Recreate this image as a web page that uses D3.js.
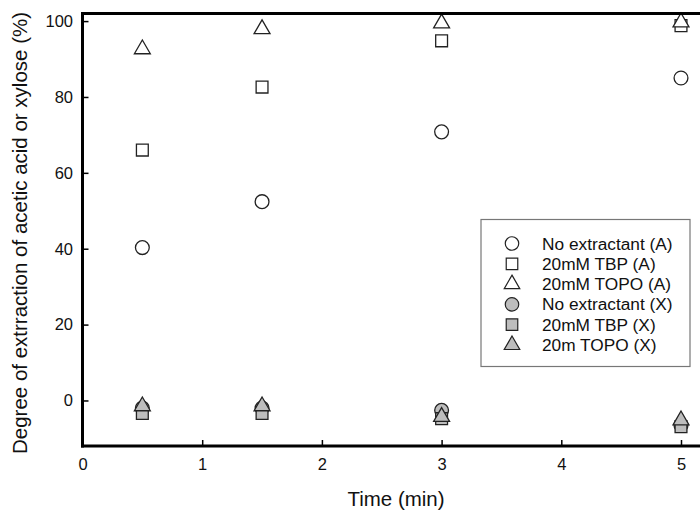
<!doctype html>
<html lang="en">
<head>
  <style>
    body { margin: 0; background: #fff; }
    text { font-family: "Liberation Sans", Arial, sans-serif; fill: #111; }
    .axis-label { font-size: 20.5px; }
    .legend text { font-size: 17.3px; }
  </style>
  <script src="https://d3js.org/d3.v7.min.js"></script>
</head>
<body>
  <script>
    const times = [0.5, 1.5, 3, 5];
    const labels = ["No extractant (A)", "20mM TBP (A)", "20mM TOPO (A)",
                    "No extractant (X)", "20mM TBP (X)", "20m TOPO (X)"];
    const noExtA = [40.3, 52.4, 70.8, 85.0];
    const tbpA = [66.0, 82.6, 94.8, 98.8];
    const topoA = [92.6, 97.9, 99.4, 99.7];
    const noExtX = [-2.0, -2.0, -2.6, -6.6];
    const tbpX = [-3.4, -3.4, -4.8, -6.9];
    const topoX = [-1.5, -1.5, -4.3, -5.2];
    const xTicks = [0, 1, 2, 3, 4, 5];
    const yTicks = [0, 20, 40, 60, 80, 100];

    const series = [
      { name: labels[0], values: noExtA, shape: d3.symbolCircle, fill: "#fff" },
      { name: labels[1], values: tbpA, shape: d3.symbolSquare, fill: "#fff" },
      { name: labels[2], values: topoA, shape: d3.symbolTriangle, fill: "#fff" },
      { name: labels[3], values: noExtX, shape: d3.symbolCircle, fill: "#bdbdbd" },
      { name: labels[4], values: tbpX, shape: d3.symbolSquare, fill: "#bdbdbd" },
      { name: labels[5], values: topoX, shape: d3.symbolTriangle, fill: "#bdbdbd" }
    ];

    const width = 700, height = 517;
    const plotLeft = 82.5, plotTop = 13.5, plotBottom = 446;

    const x = d3.scaleLinear().domain([0, 5.2]).range([plotLeft, plotLeft + 5.2 * 119.7]);
    const y = d3.scaleLinear().domain([-12, 102]).range([plotBottom, plotTop]);

    const svg = d3.select("body").append("svg")
      .attr("width", width)
      .attr("height", height);

    const symbolSize = s => s === d3.symbolCircle ? 150 : (s === d3.symbolSquare ? 140 : 110);

    const plot = svg.append("g");
    series.forEach(s => {
      plot.selectAll(null)
        .data(s.values.map((v, i) => [times[i], v]))
        .enter()
        .append("path")
        .attr("d", d3.symbol().type(s.shape).size(symbolSize(s.shape)))
        .attr("transform", d => `translate(${x(d[0])},${y(d[1])})`)
        .attr("fill", s.fill)
        .attr("stroke", "#222")
        .attr("stroke-width", 1.3);
    });

    // axes with inward ticks
    const xAxis = svg.append("g")
      .attr("transform", `translate(0,${plotBottom})`)
      .call(d3.axisBottom(x).tickValues(xTicks).tickFormat(d3.format("d"))
        .tickSizeInner(-6).tickSizeOuter(0).tickPadding(12));
    const yAxis = svg.append("g")
      .attr("transform", `translate(${plotLeft},0)`)
      .call(d3.axisLeft(y).tickValues(yTicks).tickFormat(d3.format("d"))
        .tickSizeInner(-6).tickSizeOuter(0).tickPadding(9.5));
    [xAxis, yAxis].forEach(a => {
      a.select(".domain").attr("stroke", "#000").attr("stroke-width", 3);
      a.selectAll(".tick line").attr("stroke", "#000").attr("stroke-width", 1.5);
      a.selectAll(".tick text")
        .style("font-size", "16.5px")
        .style("font-family", "'Liberation Sans', Arial, sans-serif")
        .attr("fill", "#111");
    });
    xAxis.select(".domain").attr("d", `M${plotLeft - 1.5},0H${width + 10}`);
    yAxis.select(".domain").attr("d", `M0,${plotBottom + 1.5}V${plotTop - 1.5}`);

    // top frame line
    svg.append("line")
      .attr("x1", plotLeft - 1.5).attr("x2", width + 10)
      .attr("y1", plotTop).attr("y2", plotTop)
      .attr("stroke", "#000").attr("stroke-width", 3);

    svg.append("text")
      .attr("class", "axis-label")
      .attr("x", 396).attr("y", 506)
      .attr("text-anchor", "middle")
      .text("Time (min)");

    svg.append("text")
      .attr("class", "axis-label")
      .attr("transform", "translate(27,233) rotate(-90)")
      .attr("text-anchor", "middle")
      .text("Degree of extrraction of acetic acid or xylose (%)");

    // legend
    const legend = svg.append("g").attr("class", "legend");
    legend.append("rect")
      .attr("x", 481).attr("y", 219.5)
      .attr("width", 209).attr("height", 147)
      .attr("fill", "#fff").attr("stroke", "#777").attr("stroke-width", 1.2);
    series.forEach((s, i) => {
      const ry = 243.5 + i * 20.3;
      legend.append("path")
        .attr("d", d3.symbol().type(s.shape).size(symbolSize(s.shape) * 0.95)())
        .attr("transform", `translate(512,${ry})`)
        .attr("fill", s.fill)
        .attr("stroke", "#222")
        .attr("stroke-width", 1.2);
      legend.append("text")
        .attr("x", 542).attr("y", ry)
        .attr("dy", "0.35em")
        .text(s.name);
    });
  </script>
</body>
</html>
